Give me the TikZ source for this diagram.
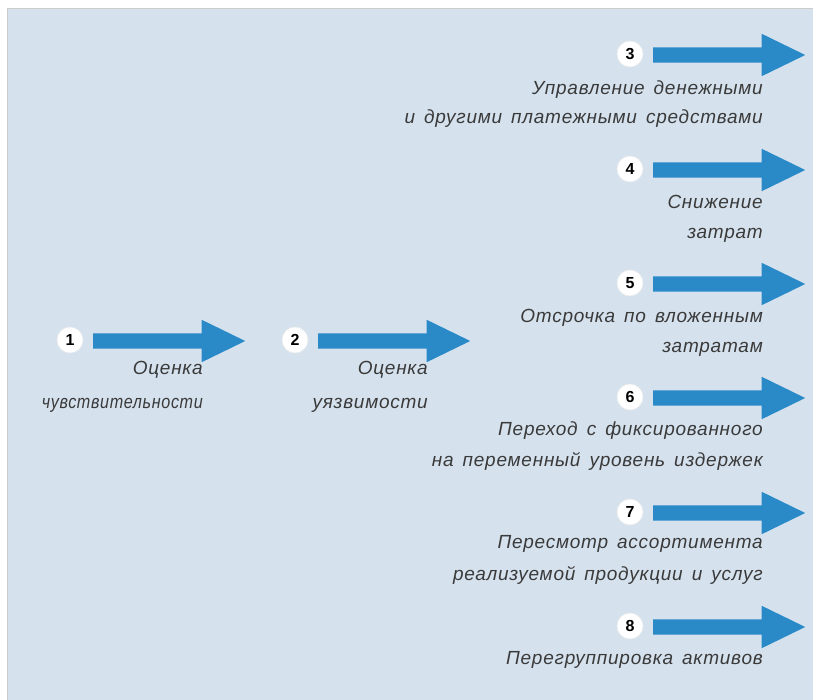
\documentclass[tikz,border=0pt]{standalone}
\usepackage{fontspec}
\setmainfont{Liberation Sans}
\newfontfamily\labfont[LetterSpace=4]{Liberation Sans}
\newfontfamily\numfont{Liberation Sans}
\newcommand\labwordspace{\spaceskip=9pt\relax}
\usetikzlibrary{shapes.arrows}
\definecolor{bgblue}{HTML}{D5E2EE}
\definecolor{arrowblue}{HTML}{2A8AC8}
\definecolor{txtgray}{HTML}{3A3A3A}
\tikzset{
  barrow/.style={single arrow, fill=arrowblue, draw=none, anchor=tail,
    minimum height=152pt, single arrow head extend=13.5pt,
    single arrow tip angle=52, inner xsep=0pt, inner ysep=7.5pt,
    text height=0pt, text depth=0pt},
  numcirc/.style={circle, fill=white, draw=white!85!gray, line width=0.6pt,
    minimum size=26pt, inner sep=0pt, text=black,
    font=\numfont\fontsize{16}{16}\selectfont\bfseries},
  lab/.style={anchor=mid east, inner sep=0pt, text=txtgray,
    font={\labfont\itshape\fontsize{19}{19}\selectfont\labwordspace}}
}
\begin{document}
\begin{tikzpicture}[x=1pt,y=-1pt]
\useasboundingbox (0,0) rectangle (813,700);
\fill[white] (0,0) rectangle (813,700);
\fill[bgblue] (7,8) rectangle (813,700);
\draw[gray!40, line width=0.8pt] (7,700) -- (7,8) -- (813,8);

% left chain
\node[numcirc] (c1) at (70,340) {1};
\node[barrow] (a1) at (93,341) {};
\node[lab] (t1a) at (203,372) {Оценка};
\node[lab, xscale=0.85] (t1b) at (203,406) {чувствительности};

\node[numcirc] (c2) at (295,340) {2};
\node[barrow] (a2) at (318,341) {};
\node[lab] (t2a) at (428,372) {Оценка};
\node[lab] (t2b) at (428,406) {уязвимости};

% right column
\node[numcirc] (c3) at (630,54) {3};
\node[barrow] (a3) at (653,55) {};
\node[lab] (t3a) at (763,92) {Управление денежными};
\node[lab] (t3b) at (763,121) {и другими платежными средствами};

\node[numcirc] (c4) at (630,169) {4};
\node[barrow] (a4) at (653,170) {};
\node[lab] (t4a) at (763,206) {Снижение};
\node[lab] (t4b) at (763,236) {затрат};

\node[numcirc] (c5) at (630,283) {5};
\node[barrow] (a5) at (653,284) {};
\node[lab] (t5a) at (763,320) {Отсрочка по вложенным};
\node[lab] (t5b) at (763,350) {затратам};

\node[numcirc] (c6) at (630,397) {6};
\node[barrow] (a6) at (653,398) {};
\node[lab] (t6a) at (763,433) {Переход с фиксированного};
\node[lab] (t6b) at (763,464) {на переменный уровень издержек};

\node[numcirc] (c7) at (630,512) {7};
\node[barrow] (a7) at (653,513) {};
\node[lab] (t7a) at (763,546) {Пересмотр ассортимента};
\node[lab] (t7b) at (763,578) {реализуемой продукции и услуг};

\node[numcirc] (c8) at (630,626) {8};
\node[barrow] (a8) at (653,627) {};
\node[lab] (t8a) at (763,662) {Перегруппировка активов};
\end{tikzpicture}
\end{document}
